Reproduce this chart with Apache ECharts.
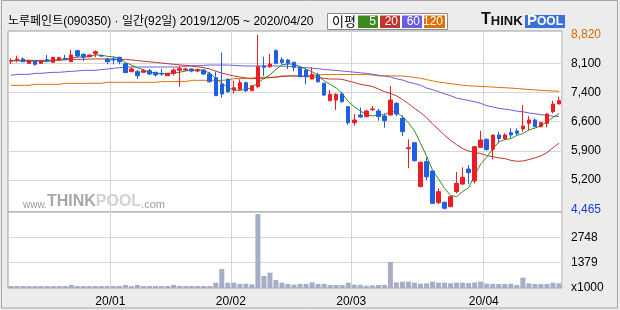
<!DOCTYPE html>
<html><head><meta charset="utf-8">
<script src="https://cdn.jsdelivr.net/npm/echarts@6/dist/echarts.min.js"></script>
<style>html,body{margin:0;padding:0;background:#ececec}#c{width:620px;height:310px}</style>
</head><body><div id="c"></div>
<script>
const dates = [
'2019/12/05','2019/12/06','2019/12/09','2019/12/10','2019/12/11','2019/12/12','2019/12/13','2019/12/16','2019/12/17','2019/12/18',
'2019/12/19','2019/12/20','2019/12/23','2019/12/24','2019/12/26','2019/12/27','2019/12/30',
'2020/01/02','2020/01/03','2020/01/06','2020/01/07','2020/01/08','2020/01/09','2020/01/10','2020/01/13','2020/01/14','2020/01/15',
'2020/01/16','2020/01/17','2020/01/20','2020/01/21','2020/01/22','2020/01/23','2020/01/28','2020/01/29','2020/01/30','2020/01/31',
'2020/02/03','2020/02/04','2020/02/05','2020/02/06','2020/02/07','2020/02/10','2020/02/11','2020/02/12','2020/02/13','2020/02/14',
'2020/02/17','2020/02/18','2020/02/19','2020/02/20','2020/02/21','2020/02/24','2020/02/25','2020/02/26','2020/02/27','2020/02/28',
'2020/03/02','2020/03/03','2020/03/04','2020/03/05','2020/03/06','2020/03/09','2020/03/10','2020/03/11','2020/03/12','2020/03/13',
'2020/03/16','2020/03/17','2020/03/18','2020/03/19','2020/03/20','2020/03/23','2020/03/24','2020/03/25','2020/03/26','2020/03/27',
'2020/03/30','2020/03/31',
'2020/04/01','2020/04/02','2020/04/03','2020/04/06','2020/04/07','2020/04/08','2020/04/09','2020/04/10','2020/04/13','2020/04/14',
'2020/04/16','2020/04/17','2020/04/20'];

const open = [8160,8188,8213,8105,8163,8105,8196,8130,8188,8229,
8146,8420,8329,8271,8346,8295,8213,8213,8254,8097,
7898,7898,7881,7923,7881,7856,7798,7856,7931,7939,
7964,7914,7939,7840,7747,7591,7708,7441,7459,7623,
7424,7524,8038,8021,8420,8195,8188,8130,8006,7939,
7715,7815,7608,7175,7190,7342,7026,6628,6819,6778,
6952,6919,6794,6819,7110,6737,5981,6130,5036,5658,
5426,4637,4646,4538,4911,5102,5475,5177,6015,6214,
5965,6322,6230,6380,6421,6471,6612,6695,6529,6612,
6902,7093];
const close = [8171,8213,8146,8180,8080,8171,8171,8254,8246,8196,
8312,8287,8262,8312,8395,8287,8146,8188,8146,7873,
7964,7798,7923,7840,7815,7840,7856,7939,7972,7964,
7914,7939,7840,7649,7300,7342,7399,7499,7623,7425,
7548,8021,8006,8088,8105,8130,8105,8006,7772,7772,
7832,7648,7317,7334,7334,7151,6628,6695,6770,6919,
6969,6778,6678,7192,6844,6404,6006,5683,5641,5280,
4621,4911,4497,4787,5118,5268,5384,6031,6197,5960,
6322,6230,6322,6322,6363,6546,6695,6529,6629,6844,
7093,7176];
const low = [8088,8130,8146,8097,8047,8097,8130,8122,8163,8188,
8146,8262,8163,8254,8262,8270,8080,8080,8080,7864,
7881,7715,7881,7815,7773,7798,7790,7798,7524,7914,
7881,7881,7815,7624,7300,7250,7375,7358,7425,7392,
7417,7483,7790,7997,8080,8080,7964,7906,7757,7583,
7707,7624,7292,7168,6944,7126,6570,6554,6745,6761,
6919,6678,6504,6811,6794,6297,5493,5658,5036,5200,
4604,4604,4465,4538,4870,5077,5102,5119,5998,5931,
5716,6114,6197,6239,6322,6404,6429,6512,6512,6512,
6861,7093];
const high = [8229,8296,8254,8188,8188,8180,8312,8262,8271,8312,
8445,8445,8354,8329,8429,8310,8246,8271,8271,8105,
8022,7939,7956,7964,7898,7964,7864,7981,8047,7997,
7981,7981,7964,7898,7898,8370,7732,7674,7707,7649,
7560,8820,8271,8337,8453,8254,8213,8146,8022,7964,
8006,7873,7624,7442,7359,7384,7035,6844,7010,6944,
7043,6969,6861,7541,7135,6811,6214,6140,5658,5766,
5426,4994,4662,4803,5400,5517,5575,6048,6421,6239,
6322,6405,6363,6488,6488,7068,6794,6736,6645,6861,
7176,7275];

const ma5 = [8165,8170,8160,8160,8158,8158,8150,8171,8184,8208,
8236,8259,8261,8274,8314,8309,8280,8266,8232,8128,
8063,7994,7941,7880,7868,7843,7855,7858,7884,7914,
7929,7946,7926,7861,7728,7614,7506,7438,7433,7458,
7499,7623,7725,7818,7954,8070,8087,8087,8024,7957,
7897,7806,7668,7581,7493,7357,7153,7028,6916,6833,
6796,6826,6823,6907,6892,6779,6625,6426,6116,5803,
5446,5227,4990,4819,4787,4916,5011,5318,5600,5768,
5979,6148,6206,6231,6312,6357,6450,6491,6552,6649,
6758,6854];
const ma20 = [8175,8178,8180,8180,8178,8176,8180,8185,8190,8195,
8200,8205,8208,8210,8215,8215,8210,8208,8205,8202,
8191,8171,8160,8143,8129,8113,8097,8081,8068,8056,
8036,8019,7998,7964,7910,7862,7825,7791,7764,7742,
7721,7732,7737,7749,7763,7778,7790,7794,7784,7774,
7770,7756,7729,7714,7715,7706,7667,7627,7584,7559,
7530,7468,7402,7357,7294,7207,7102,6986,6880,6755,
6595,6458,6317,6189,6079,5984,5922,5889,5860,5812,
5780,5753,5735,5691,5667,5674,5709,5751,5801,5880,
6004,6117];
const ma60 = [7806,7831,7831,7831,7856,7856,7870,7881,7881,7895,
7906,7915,7931,7931,7931,7950,7964,7980,7997,8010,
8014,8014,8014,8014,8014,8014,8014,8014,8014,8030,
8047,8047,8055,8063,8063,8063,8063,8055,8045,8039,
8039,8039,8039,8039,8039,8035,8030,8022,8005,7997,
7985,7970,7955,7940,7928,7915,7900,7885,7870,7855,
7835,7810,7790,7765,7720,7690,7640,7600,7560,7490,
7450,7400,7345,7300,7240,7210,7180,7150,7110,7050,
7020,6985,6965,6944,6915,6900,6870,6850,6825,6810,
6790,6780];
const ma120 = [7558,7558,7558,7558,7583,7583,7583,7583,7583,7608,
7608,7608,7608,7608,7608,7608,7633,7633,7633,7633,
7633,7633,7633,7633,7633,7650,7650,7650,7650,7650,
7683,7683,7683,7683,7683,7683,7690,7725,7725,7725,
7740,7757,7757,7757,7760,7790,7790,7790,7790,7795,
7800,7815,7825,7825,7825,7825,7825,7825,7825,7825,
7815,7795,7795,7795,7790,7790,7775,7755,7735,7700,
7670,7640,7620,7600,7580,7560,7545,7537,7530,7524,
7515,7505,7498,7490,7478,7466,7455,7444,7435,7425,
7415,7410];
const volume = [108,108,108,108,108,108,108,108,108,108,
163,108,108,108,108,108,108,108,108,163,
108,163,108,108,108,108,108,163,108,108,
108,108,108,108,289,1031,289,289,217,235,
199,4014,651,832,434,289,217,181,217,217,
307,217,217,163,163,163,289,181,181,127,
145,163,163,1410,307,343,343,289,235,253,
343,289,289,253,289,289,271,307,343,235,
217,217,217,235,163,561,253,217,217,217,
289,253];

const priceTickValues = [8101, 7377, 6652, 5928, 5204];
const priceLabelValues = [8820, 8101, 7377, 6652, 5928, 5204, 4465];
const priceLabelTexts = ['8,820','8,100','7,400','6,600','5,900','5,200','4,465'];
const volTickValues = [1374, 2748];
const volLabelValues = [0, 1374, 2748];
const volLabelTexts = ['x1000', '1379', '2748'];
const legendNames = ['5', '20', '60', '120'];
const titleText = '노루페인트(090350) · 일간(92일) 2019/12/05 ~ 2020/04/20';

const monthStarts = dates.map((d, i) => (i > 0 && d.slice(5, 7) !== dates[i - 1].slice(5, 7)) ? i : -1).filter(i => i >= 0);
const isMonthStart = (i) => monthStarts.indexOf(i) >= 0;

const UP = '#ee1c25', DOWN = '#1f5fe3';
const C5 = '#3c8a1e', C20 = '#c0342e', C60 = '#6b5ce0', C120 = '#dd7000';
const GRIDC = '#d6d6d6';

const ohlc = dates.map((d, i) => [open[i], close[i], low[i], high[i]]);

const chart = echarts.init(document.getElementById('c'), null, {renderer: 'canvas', width: 620, height: 310});

const xBase = {
  type: 'category', data: dates, boundaryGap: true,
  axisLine: {show: false}, axisTick: {show: false},
  splitLine: {show: true, interval: (i) => isMonthStart(i), lineStyle: {color: GRIDC, width: 1}}
};

const legendBoxes = [];
const boxX = [358, 380, 402, 424];
const boxW = [20, 20, 20, 21];
const boxC = [C5, C20, C60, C120];
legendNames.forEach((n, k) => {
  legendBoxes.push({type: 'rect', shape: {x: boxX[k], y: 15.5, width: boxW[k], height: 12.5}, style: {fill: boxC[k]}, z: 101});
  legendBoxes.push({type: 'text', x: boxX[k] + boxW[k] - 2, y: 22, style: {text: n, fill: '#fff', fontSize: 12, fontFamily: 'Liberation Sans', align: 'right', verticalAlign: 'middle'}, z: 102});
});

chart.setOption({
  animation: false,
  backgroundColor: '#ececec',
  grid: [
    {left: 8, top: 31, width: 554, height: 181, show: true, backgroundColor: '#fff', borderColor: '#a0a0a0', borderWidth: 1},
    {left: 8, top: 212, width: 554, height: 76, show: true, backgroundColor: '#fff', borderColor: '#a0a0a0', borderWidth: 1}
  ],
  xAxis: [
    Object.assign({}, xBase, {gridIndex: 0, axisLabel: {show: false}}),
    Object.assign({}, xBase, {gridIndex: 1, axisLabel: {
      show: true, interval: (i) => isMonthStart(i),
      formatter: (v) => v.slice(2, 4) + '/' + v.slice(5, 7),
      color: '#000', fontSize: 12, fontFamily: 'Liberation Sans', margin: 8, padding: [0, 6, 0, 0]
    }})
  ],
  yAxis: [
    {type: 'value', gridIndex: 0, position: 'right', min: 4405, max: 8910,
     axisLine: {show: false}, axisTick: {show: false, customValues: priceTickValues},
     splitLine: {show: true, lineStyle: {color: GRIDC, width: 1}},
     axisLabel: {customValues: priceLabelValues, align: 'left', margin: 9, fontSize: 12, fontFamily: 'Liberation Sans',
       formatter: (v) => priceLabelTexts[priceLabelValues.indexOf(Number(v))],
       color: (v) => Number(v) === 8820 ? '#d86a00' : (Number(v) === 4465 ? '#1a3fd0' : '#000')}},
    {type: 'value', gridIndex: 1, position: 'right', min: 0, max: 4122,
     axisLine: {show: false}, axisTick: {show: false, customValues: volTickValues},
     splitLine: {show: true, lineStyle: {color: GRIDC, width: 1}},
     axisLabel: {customValues: volLabelValues, align: 'left', margin: 9, fontSize: 12, fontFamily: 'Liberation Sans', color: '#000',
       formatter: (v) => volLabelTexts[volLabelValues.indexOf(Number(v))]}}
  ],
  series: [
    {name: 'MA120', type: 'line', xAxisIndex: 0, yAxisIndex: 0, data: ma120, showSymbol: false, lineStyle: {color: C120, width: 1}, z: 2},
    {name: 'MA60', type: 'line', xAxisIndex: 0, yAxisIndex: 0, data: ma60, showSymbol: false, lineStyle: {color: C60, width: 1}, z: 2},
    {name: 'MA20', type: 'line', xAxisIndex: 0, yAxisIndex: 0, data: ma20, showSymbol: false, lineStyle: {color: C20, width: 1}, z: 2},
    {name: 'MA5', type: 'line', xAxisIndex: 0, yAxisIndex: 0, data: ma5, showSymbol: false, lineStyle: {color: C5, width: 1}, z: 2},
    {name: 'price', type: 'candlestick', xAxisIndex: 0, yAxisIndex: 0, data: ohlc, barWidth: 4,
     itemStyle: {color: UP, color0: DOWN, borderColor: UP, borderColor0: DOWN, borderWidth: 1}, z: 3},
    {name: 'volume', type: 'bar', xAxisIndex: 1, yAxisIndex: 1, data: volume, barWidth: 5,
     itemStyle: {color: '#a6aec7'}}
  ],
  graphic: [
    {type: 'rect', shape: {x: 1.5, y: 0.5, width: 616, height: 307.5}, style: {fill: 'none', stroke: '#a8a8a8', lineWidth: 1}, z: 100, silent: true},
    {type: 'text', x: 8, y: 21.5, style: {text: titleText, fill: '#000', fontSize: 12, fontFamily: '"Liberation Sans", "Noto Sans CJK KR"', verticalAlign: 'middle'}, z: 100},
    {type: 'rect', shape: {x: 327.5, y: 13.5, width: 120, height: 16}, style: {fill: '#fff', stroke: '#8c8c8c', lineWidth: 1}, z: 100},
    {type: 'text', x: 332, y: 21.5, style: {text: '이평', fill: '#000', fontSize: 13, fontFamily: 'Noto Sans CJK KR', verticalAlign: 'middle'}, z: 101}
  ].concat(legendBoxes).concat([
    {type: 'text', x: 481, y: 28, style: {
      text: '{a|T}{b|HINK}', fill: '#111', verticalAlign: 'bottom',
      rich: {a: {fontSize: 16, fontWeight: 'bold', fontFamily: 'Liberation Sans', fill: '#111', verticalAlign: 'bottom'},
             b: {fontSize: 13, fontWeight: 'bold', fontFamily: 'Liberation Sans', fill: '#111', verticalAlign: 'bottom'}}}, z: 100},
    {type: 'rect', shape: {x: 525, y: 15, width: 40, height: 13}, style: {fill: '#3a6fdc'}, z: 100},
    {type: 'text', x: 545, y: 28, style: {
      text: '{a|P}{b|OOL}', fill: '#fff', align: 'center', verticalAlign: 'bottom',
      rich: {a: {fontSize: 15, fontWeight: 'bold', fontFamily: 'Liberation Sans', fill: '#fff', verticalAlign: 'bottom'},
             b: {fontSize: 12, fontWeight: 'bold', fontFamily: 'Liberation Sans', fill: '#fff', verticalAlign: 'bottom'}}}, z: 101},
    {type: 'text', x: 23, y: 210, style: {
      text: '{w|www.}{t|THINK}{p|POOL}{c|.com}', verticalAlign: 'bottom',
      rich: {w: {fontSize: 10, fontFamily: 'Liberation Sans', fill: '#9c9c9c', verticalAlign: 'bottom'},
             t: {fontSize: 16, fontWeight: 'bold', fontFamily: 'Liberation Sans', fill: '#a8a8a8', verticalAlign: 'bottom'},
             p: {fontSize: 16, fontWeight: 'bold', fontFamily: 'Liberation Sans', fill: '#d2d2d2', verticalAlign: 'bottom'},
             c: {fontSize: 11, fontFamily: 'Liberation Sans', fill: '#9c9c9c', verticalAlign: 'bottom'}}}, z: 100}
  ])
});
</script>
</body></html>
